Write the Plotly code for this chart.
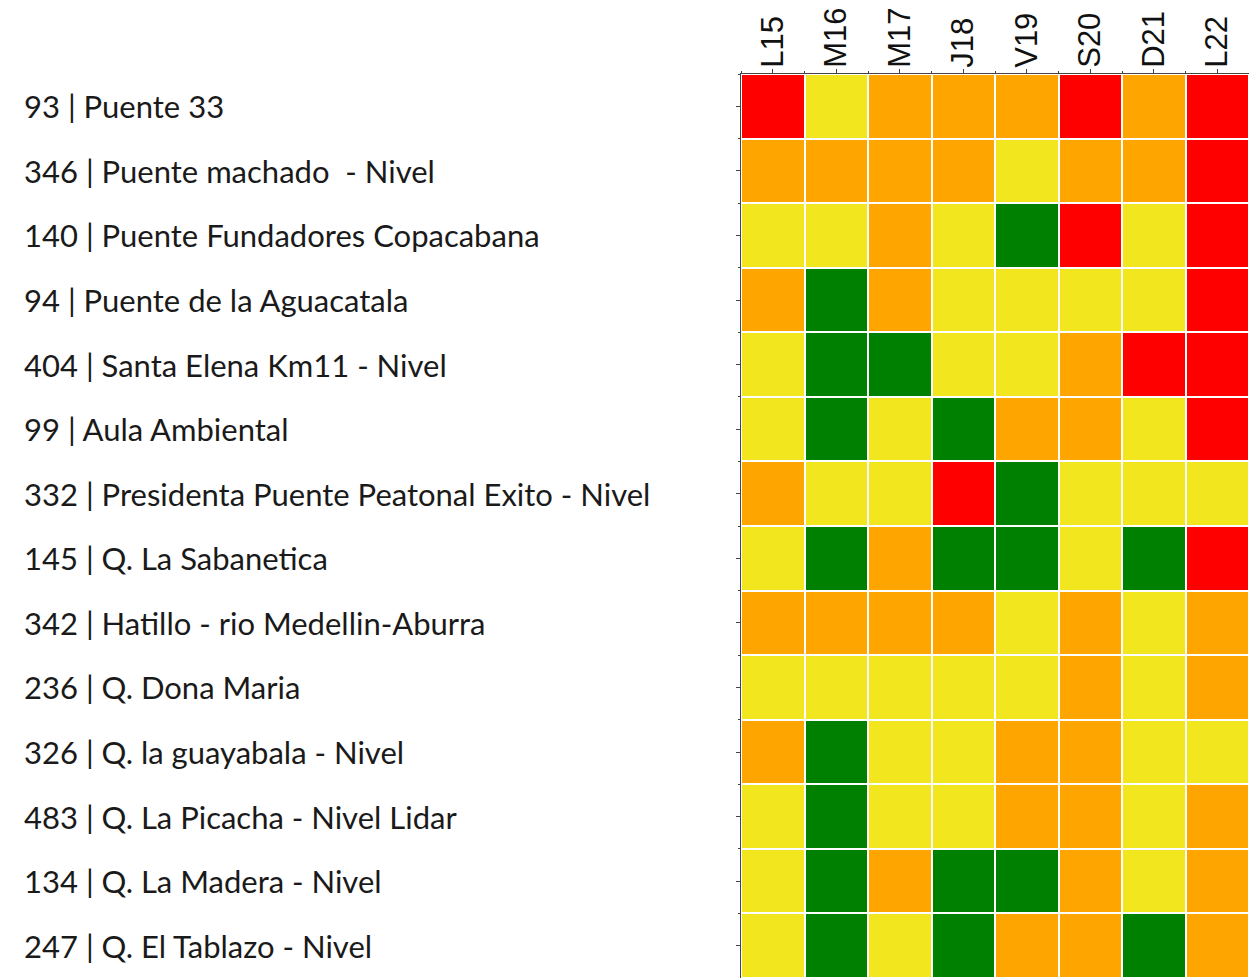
import plotly.graph_objects as go

days = ["L15", "M16", "M17", "J18", "V19", "S20", "D21", "L22"]
stations = [
    "93 | Puente 33",
    "346 | Puente machado  - Nivel",
    "140 | Puente Fundadores Copacabana",
    "94 | Puente de la Aguacatala",
    "404 | Santa Elena Km11 - Nivel",
    "99 | Aula Ambiental",
    "332 | Presidenta Puente Peatonal Exito - Nivel",
    "145 | Q. La Sabanetica",
    "342 | Hatillo - rio Medellin-Aburra",
    "236 | Q. Dona Maria",
    "326 | Q. la guayabala - Nivel",
    "483 | Q. La Picacha - Nivel Lidar",
    "134 | Q. La Madera - Nivel",
    "247 | Q. El Tablazo - Nivel",
]
# 0 = green, 1 = yellow, 2 = orange, 3 = red
levels = [
    [3, 1, 2, 2, 2, 3, 2, 3],
    [2, 2, 2, 2, 1, 2, 2, 3],
    [1, 1, 2, 1, 0, 3, 1, 3],
    [2, 0, 2, 1, 1, 1, 1, 3],
    [1, 0, 0, 1, 1, 2, 3, 3],
    [1, 0, 1, 0, 2, 2, 1, 3],
    [2, 1, 1, 3, 0, 1, 1, 1],
    [1, 0, 2, 0, 0, 1, 0, 3],
    [2, 2, 2, 2, 1, 2, 1, 2],
    [1, 1, 1, 1, 1, 2, 1, 2],
    [2, 0, 1, 1, 2, 2, 1, 1],
    [1, 0, 1, 1, 2, 2, 1, 2],
    [1, 0, 2, 0, 0, 2, 1, 2],
    [1, 0, 1, 0, 2, 2, 0, 2],
]
level_colors = ["#008000", "#F2E61E", "#FFA500", "#FF0000"]

n = len(level_colors)
colorscale = []
for i, c in enumerate(level_colors):
    colorscale.append([i / n, c])
    colorscale.append([(i + 1) / n, c])

xs = list(range(len(days)))
ys = list(range(len(stations)))

fig = go.Figure(
    go.Heatmap(
        z=levels,
        x=xs,
        y=ys,
        zmin=-0.5,
        zmax=3.5,
        colorscale=colorscale,
        showscale=False,
        xgap=2,
        ygap=2,
        hovertemplate="%{z}<extra></extra>",
    )
)

W, H = 1249, 978
L, T = 741, 74
fig.update_layout(
    width=W,
    height=H,
    margin=dict(l=L, r=0, t=T, b=0, pad=0),
    paper_bgcolor="white",
    plot_bgcolor="white",
    showlegend=False,
)
fig.update_xaxes(
    side="top",
    range=[-0.5, len(days) - 0.5],
    tickvals=xs,
    ticktext=days,
    tickangle=-90,
    ticks="outside",
    ticklen=4,
    tickcolor="#444",
    ticklabelstandoff=-5,
    tickfont=dict(family="Liberation Sans", size=31, color="#111"),
    minor=dict(ticks="outside", ticklen=2, tick0=-0.5, dtick=1, tickcolor="#444"),
    showline=True,
    linecolor="#444",
    linewidth=1,
    showgrid=False,
    zeroline=False,
    fixedrange=True,
)
fig.update_yaxes(
    range=[len(stations) - 0.5, -0.5],
    tickvals=ys,
    showticklabels=False,
    ticks="outside",
    ticklen=4,
    tickcolor="#444",
    minor=dict(ticks="outside", ticklen=2, tick0=-0.5, dtick=1, tickcolor="#444"),
    showline=True,
    linecolor="#444",
    linewidth=1,
    showgrid=False,
    zeroline=False,
    fixedrange=True,
)

plot_w = W - L
for i, name in enumerate(stations):
    fig.add_annotation(
        x=-(L - 22) / plot_w,
        xref="paper",
        y=i,
        yref="y",
        text=name,
        showarrow=False,
        xanchor="left",
        yanchor="middle",
        font=dict(family="Lato", size=31, color="#1a1a1a"),
    )

fig.write_html(
    "out.html",
    config={"displayModeBar": False},
    post_script="document.body.style.margin='0';document.body.style.overflow='hidden';",
)
